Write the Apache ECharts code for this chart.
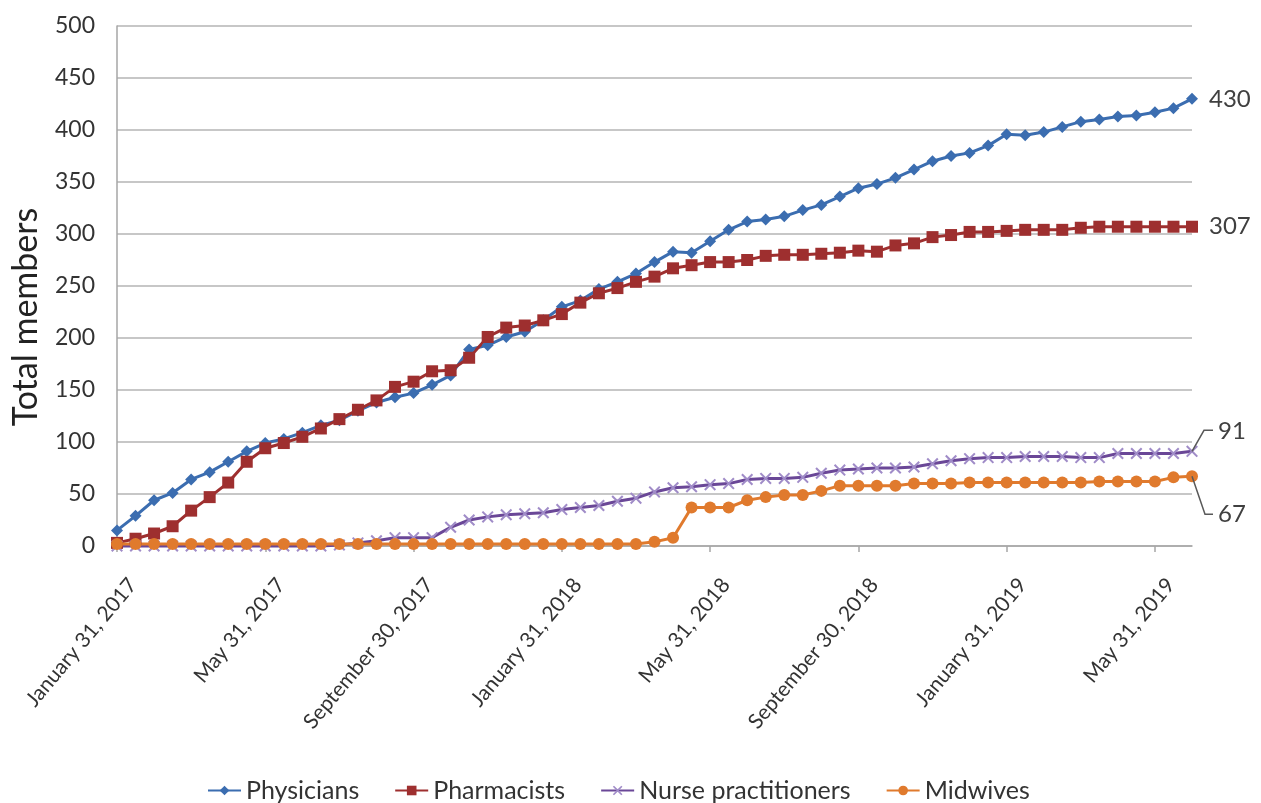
<!DOCTYPE html>
<html>
<head>
<meta charset="utf-8">
<script src="https://cdn.jsdelivr.net/npm/echarts@6/dist/echarts.min.js"></script>
<style>
html,body{margin:0;padding:0;background:#fff;}
#main{width:1261px;height:803px;}
</style>
</head>
<body>
<div id="main"></div>
<script>
// ---- data ----
const dates = [
 '2017-01-31','2017-02-15','2017-02-28','2017-03-15','2017-03-31','2017-04-15','2017-04-30','2017-05-15','2017-05-31',
 '2017-06-15','2017-06-30','2017-07-15','2017-07-31','2017-08-15','2017-08-31','2017-09-15','2017-09-30',
 '2017-10-15','2017-10-31','2017-11-15','2017-11-30','2017-12-15','2017-12-31',
 '2018-01-15','2018-01-31','2018-02-15','2018-02-28','2018-03-15','2018-03-31','2018-04-15','2018-04-30','2018-05-15','2018-05-31',
 '2018-06-15','2018-06-30','2018-07-15','2018-07-31','2018-08-15','2018-08-31','2018-09-15','2018-09-30',
 '2018-10-15','2018-10-31','2018-11-15','2018-11-30','2018-12-15','2018-12-31',
 '2019-01-15','2019-01-31','2019-02-15','2019-02-28','2019-03-15','2019-03-31','2019-04-15','2019-04-30','2019-05-15','2019-05-31',
 '2019-06-15','2019-06-30'
];
const physicians = [15,29,44,51,64,71,81,91,99,103,109,116,121,130,138,143,147,155,164,189,193,201,206,
 217,230,236,247,254,262,273,283,282,293,304,312,314,317,323,328,336,344,348,354,362,370,375,378,
 385,396,395,398,403,408,410,413,414,417,421,430];
const pharmacists = [3,7,12,19,34,47,61,81,94,99,105,113,122,131,140,153,158,168,169,181,201,210,212,
 217,223,234,243,248,254,259,267,270,273,273,275,279,280,280,281,282,284,283,289,291,297,299,302,
 302,303,304,304,304,306,307,307,307,307,307,307];
const nurses = [0,0,0,0,0,0,0,0,0,0,0,0,1,3,5,8,8,8,18,25,28,30,31,
 32,35,37,39,43,46,52,56,57,59,60,64,65,65,66,70,73,74,75,75,76,79,82,84,
 85,85,86,86,86,85,85,89,89,89,89,91];
const midwives = [2,2,2,2,2,2,2,2,2,2,2,2,2,2,2,2,2,2,2,2,2,2,2,
 2,2,2,2,2,2,4,8,37,37,37,44,47,49,49,53,58,58,58,58,60,60,60,61,
 61,61,61,61,61,61,62,62,62,62,66,67];
const seriesNames = ['Physicians','Pharmacists','Nurse practitioners','Midwives'];
const yTicks = {min:0, max:500, interval:50};
const months = ['January','February','March','April','May','June','July','August','September','October','November','December'];

// ---- styling ----
const FONT = 'Lato, "Liberation Sans", sans-serif';
const TXT = '#333333';
const colors = {
  phys:'#3b6db0', pharm:'#9e2f2f', nurseLine:'#6a4797', nurseMark:'#a08cc8', mid:'#e07a2d'
};
const xSymbol = 'path://M0,1.2 L1.2,0 L5,3.8 L8.8,0 L10,1.2 L6.2,5 L10,8.8 L8.8,10 L5,6.2 L1.2,10 L0,8.8 L3.8,5 Z';

function fmtDate(s){
  const [y,m,d] = s.split('-');
  return months[parseInt(m,10)-1] + ' ' + parseInt(d,10) + ', ' + y;
}

function withEndLabel(arr, labelOpt){
  return arr.map((v,i)=> i===arr.length-1 ? {value:v, label:Object.assign({
    show:true, position:'right', fontFamily:FONT, fontSize:24, color:'#404040',
    formatter: String(v)
  }, labelOpt)} : v);
}

const chart = echarts.init(document.getElementById('main'), null, {renderer:'canvas'});
const option = {
  animation:false,
  backgroundColor:'#ffffff',
  grid:{left:117, right:69, top:26, bottom:257},
  legend:{
    left:202, top:773, itemWidth:33, itemHeight:12, itemGap:35,
    textStyle:{fontFamily:FONT, fontSize:25, color:TXT},
    data:seriesNames
  },
  xAxis:{
    type:'category', data:dates, boundaryGap:false,
    axisLine:{lineStyle:{color:'#a6a6a6', width:1.5}},
    axisTick:{show:true, interval:7, length:6, lineStyle:{color:'#a6a6a6', width:1.5}},
    axisLabel:{interval:7, rotate:50, margin:22, align:'right', verticalAlign:'top', padding:[10,0,0,0],
      fontFamily:FONT, fontSize:21, color:TXT, formatter:fmtDate},
    splitLine:{show:false}
  },
  yAxis:{
    type:'value', min:yTicks.min, max:yTicks.max, interval:yTicks.interval,
    axisLine:{show:true, lineStyle:{color:'#a6a6a6', width:1.5}},
    axisTick:{show:false},
    axisLabel:{margin:22, fontFamily:FONT, fontSize:23, color:TXT},
    splitLine:{lineStyle:{color:'#b5b5b5', width:1.5}}
  },
  graphic:[{
    type:'text', x:26, y:317, rotation:Math.PI/2,
    style:{text:'Total members', fontFamily:FONT, fontSize:34, fill:'#222', align:'center', verticalAlign:'middle', textAlign:'center', textVerticalAlign:'middle'}
  }],
  series:[
    {name:seriesNames[0], type:'line', data:withEndLabel(physicians,{distance:11}), clip:false, showAllSymbol:true,
     symbol:'diamond', symbolSize:12, lineStyle:{color:colors.phys, width:3},
     itemStyle:{color:colors.phys}},
    {name:seriesNames[1], type:'line', data:withEndLabel(pharmacists,{distance:11}), clip:false, showAllSymbol:true,
     symbol:'rect', symbolSize:12, lineStyle:{color:colors.pharm, width:3},
     itemStyle:{color:colors.pharm}},
    {name:seriesNames[2], type:'line', data:withEndLabel(nurses,{distance:20, offset:[0,-20]}), clip:false, showAllSymbol:true,
     symbol:xSymbol, symbolSize:12, lineStyle:{color:colors.nurseLine, width:3},
     itemStyle:{color:colors.nurseMark}},
    {name:seriesNames[3], type:'line', data:withEndLabel(midwives,{distance:20, offset:[0,38]}), clip:false, showAllSymbol:true,
     symbol:'circle', symbolSize:12, lineStyle:{color:colors.mid, width:3},
     itemStyle:{color:colors.mid}}
  ]
};
chart.setOption(option);

// leader lines for the two lower end labels, placed from the library's pixel conversion
(function(){
  const last = dates.length-1;
  const pN = chart.convertToPixel({seriesIndex:2}, [last, nurses[last]]);
  const pM = chart.convertToPixel({seriesIndex:3}, [last, midwives[last]]);
  const gs = option.graphic.slice();
  gs.push({type:'polyline', z:100, silent:true,
    shape:{points:[[pN[0],pN[1]],[pN[0]+12,pN[1]-21],[pN[0]+21,pN[1]-21]]},
    style:{stroke:'#595959', lineWidth:1.5, fill:null}});
  gs.push({type:'polyline', z:100, silent:true,
    shape:{points:[[pM[0],pM[1]],[pM[0]+13,pM[1]+38],[pM[0]+21,pM[1]+38]]},
    style:{stroke:'#595959', lineWidth:1.5, fill:null}});
  chart.setOption({graphic:gs});
})();
</script>
</body>
</html>
